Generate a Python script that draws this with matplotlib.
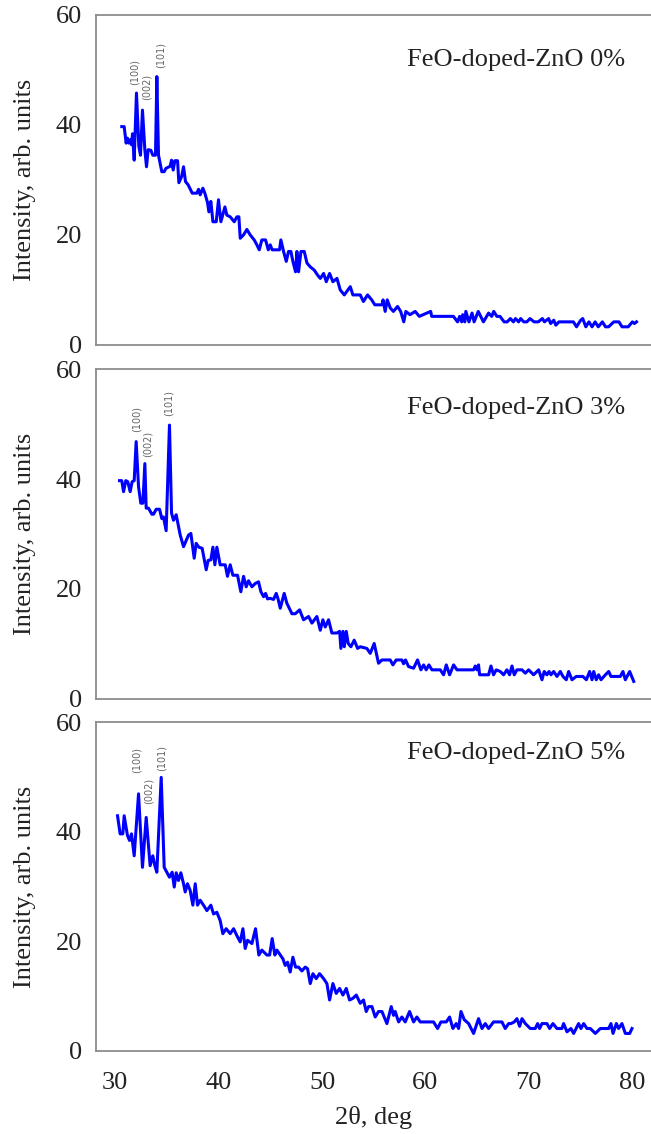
import matplotlib
matplotlib.use("Agg")
import matplotlib.pyplot as plt

plt.rcParams['font.family'] = ['Liberation Serif', 'DejaVu Serif']

# --- FeO-doped-ZnO 0% ---
x0 = [30.64, 30.87, 31.06, 31.19, 31.32, 31.45, 31.58, 31.68, 31.84, 32.06, 32.29, 32.45,
      32.64, 32.87, 33.03, 33.19, 33.45, 33.64, 33.90, 34.03, 34.19, 34.51, 34.74, 34.90,
      35.32, 35.45, 35.61, 35.77, 36.03, 36.16, 36.42, 36.61, 36.80, 37.06, 37.45, 37.90,
      38.06, 38.22, 38.48, 38.67, 38.93, 39.06, 39.25, 39.45, 39.77, 39.99, 40.22, 40.61,
      40.80, 41.12, 41.51, 41.77, 41.96, 42.09, 42.41, 42.73, 43.06, 43.44, 43.70, 43.93,
      44.18, 44.54, 44.80, 44.99, 45.18, 45.89, 46.02, 46.28, 46.54, 46.76, 46.99, 47.18,
      47.44, 47.57, 47.73, 47.96, 48.28, 48.54, 48.86, 49.25, 49.57, 49.83, 50.15, 50.41,
      50.73, 51.05, 51.44, 51.76, 52.15, 52.73, 52.98, 53.53,
      53.69, 54.0, 54.4, 54.8, 55.1, 55.8, 55.9, 56.1, 56.3, 56.6, 56.9, 57.3, 57.6, 57.9,
      58.1, 58.5, 59.0, 59.4, 60.5, 60.6, 62.7, 63.1, 63.3, 63.5, 63.6, 63.8, 63.9, 64.2,
      64.5, 64.7, 65.1, 65.6, 66.1, 66.4, 66.6, 66.9, 67.2, 67.6, 67.9, 68.2, 68.5, 68.7,
      69.0, 69.2, 69.5, 69.8, 70.1, 70.5, 70.9, 71.3, 71.5, 71.9, 72.1, 72.4, 72.6, 72.9,
      74.3, 74.6, 75.0, 75.2, 75.5, 75.8, 76.1, 76.4, 76.7, 77.1, 77.4, 77.7, 78.2, 78.7,
      79.0, 79.6, 80.0, 80.2, 80.4]
y0 = [39.7, 39.7, 36.7, 37.6, 36.7, 37.3, 36.4, 38.4, 33.6, 45.8, 36.1, 34.5,
      42.7, 35.5, 32.4, 35.5, 35.4, 34.5, 34.5, 48.8, 34.5, 31.5, 31.5, 32.1,
      32.5, 33.6, 31.8, 33.5, 33.5, 29.5, 30.6, 32.4, 29.7, 29.1, 27.6, 27.6,
      28.3, 27.3, 28.5, 27.6, 25.9, 24.2, 26.1, 22.4, 22.4, 26.4, 22.4, 25.1,
      23.6, 23.3, 22.4, 23.3, 23.3, 19.4, 20.0, 21.0, 20.0, 19.1, 18.2, 17.3,
      19.1, 19.1, 17.3, 18.2, 17.3, 17.3, 19.1, 17.0, 15.2, 17.0, 17.0, 15.2,
      13.3, 17.0, 13.3, 17.0, 17.0, 14.9, 14.2, 13.6, 12.7, 12.1, 13.0, 11.5,
      13.0, 11.5, 12.1, 10.0, 9.1, 10.6, 9.1, 9.1,
      9.1, 7.9, 9.1, 8.2, 7.3, 7.3, 8.2, 6.1, 8.2, 6.7, 6.1, 7.0, 6.1, 4.2,
      6.1, 5.5, 6.1, 5.2, 6.1, 5.2, 5.2, 4.2, 5.2, 4.2, 5.5, 4.2, 6.1, 4.2,
      5.8, 4.2, 6.1, 4.2, 5.8, 5.2, 6.1, 5.2, 5.2, 4.2, 4.2, 4.8, 4.2, 4.8,
      4.2, 4.8, 4.2, 4.2, 4.8, 4.2, 4.2, 4.8, 4.2, 4.8, 3.9, 4.5, 3.6, 4.2,
      4.2, 3.3, 4.5, 4.8, 3.3, 4.2, 3.3, 4.2, 3.3, 4.2, 3.3, 3.3, 4.2, 4.2,
      3.3, 3.3, 4.2, 3.9, 4.2]

# --- FeO-doped-ZnO 3% ---
x3 = [30.42, 30.64, 30.81, 31.03, 31.22, 31.45, 31.64, 31.84, 32.03, 32.26, 32.48, 32.68,
      32.87, 33.00, 33.22, 33.55, 33.71, 33.97, 34.29, 34.51, 34.67, 34.93, 35.25, 35.45,
      35.64, 35.90, 36.29, 36.61, 37.09, 37.32, 37.64, 37.83, 38.09, 38.41, 38.80, 38.99,
      39.25, 39.45, 39.64, 39.83, 40.15, 40.64, 40.86, 41.12, 41.38, 41.83, 42.15, 42.41,
      42.67, 42.89, 43.22, 43.54, 43.86, 44.09, 44.35, 44.54, 44.73, 44.99, 45.31, 45.57,
      45.76, 45.96, 46.34, 46.60, 47.09, 47.41, 47.83, 48.21, 48.70, 49.02, 49.50, 49.83,
      50.08, 50.31, 50.63, 50.95, 51.44, 51.70, 51.82, 52.02, 52.15, 52.34, 52.53, 52.79,
      53.11, 53.44,
      53.69, 54.33, 54.66, 55.04, 55.46, 55.79, 56.59, 56.85, 57.17, 57.72, 57.88, 58.07,
      58.36, 58.85, 59.23, 59.56, 59.82, 60.07, 60.33, 60.62, 61.43, 61.75, 62.01, 62.33,
      62.72, 63.04, 64.65, 64.81, 64.97, 65.13, 65.23, 66.10, 66.33, 66.58, 66.84, 67.23,
      67.55, 67.87, 68.13, 68.36, 68.58, 68.84, 69.33, 69.65, 69.97, 70.45, 70.94, 71.26,
      71.48, 71.74, 71.94, 72.13, 72.39, 72.71, 73.03, 73.29, 73.61, 73.84, 74.16, 74.58,
      75.22, 75.55, 75.87, 76.10, 76.26, 76.51, 76.74, 76.97, 77.39, 77.71, 77.93, 78.83,
      79.09, 79.32, 79.74, 80.13]
y3 = [39.7, 39.7, 37.7, 39.7, 39.5, 37.7, 39.5, 39.7, 46.8, 38.6, 35.6, 35.6,
      42.8, 34.7, 34.7, 33.6, 33.6, 34.5, 34.5, 32.8, 33.1, 30.6, 49.8, 33.8,
      32.5, 33.5, 29.8, 27.7, 29.8, 30.1, 25.6, 28.3, 27.6, 27.4, 23.5, 25.2,
      25.3, 27.6, 24.4, 27.6, 24.4, 24.4, 22.3, 24.4, 22.5, 22.5, 19.5, 22.3,
      20.4, 21.5, 20.4, 21.0, 21.3, 19.5, 18.6, 19.2, 18.2, 18.3, 18.1, 19.2,
      18.1, 16.5, 19.2, 17.4, 15.5, 15.5, 16.2, 14.4, 15.0, 13.8, 15.0, 12.5,
      14.4, 13.1, 14.4, 12.0, 12.0, 12.3, 9.2, 12.3, 9.5, 12.3, 10.1, 9.5,
      10.7, 9.2,
      9.5, 9.2, 8.3, 10.1, 6.5, 7.1, 7.1, 6.2, 7.1, 7.1, 6.4, 7.1,
      5.9, 5.6, 7.1, 5.3, 6.2, 5.3, 6.2, 5.3, 5.3, 4.4, 6.2, 4.4,
      6.2, 5.3, 5.3, 6.0, 5.3, 6.2, 4.4, 4.4, 6.0, 4.4, 5.3, 5.0,
      4.4, 5.3, 4.4, 6.0, 4.4, 5.3, 5.3, 4.7, 5.3, 4.4, 5.3, 3.5,
      5.0, 4.4, 5.0, 4.4, 5.0, 4.1, 5.0, 4.1, 3.5, 5.0, 3.5, 4.1,
      4.1, 3.5, 5.0, 3.5, 5.0, 3.5, 4.4, 3.5, 4.4, 5.0, 4.1, 4.1,
      5.0, 3.5, 5.0, 3.2]

# --- FeO-doped-ZnO 5% ---
x5 = [30.23, 30.48, 30.74, 30.87, 31.19, 31.39, 31.58, 31.84, 32.26, 32.64, 33.00, 33.38,
      33.64, 33.84, 34.03, 34.45, 34.74, 35.00, 35.25, 35.51, 35.71, 35.90, 36.12, 36.35,
      36.61, 36.77, 36.99, 37.25, 37.51, 37.74, 37.96, 38.22, 38.54, 38.87, 39.25, 39.51,
      39.83, 40.15, 40.41, 40.73, 41.12, 41.45, 41.83, 42.09, 42.35, 42.57, 42.80, 43.22,
      43.57, 43.89, 44.18, 44.67, 44.93, 45.18, 45.44, 45.64, 45.96, 46.22, 46.44, 46.67,
      46.92, 47.18, 47.44, 47.73, 48.05, 48.38, 48.60, 48.86, 49.12, 49.44, 49.76, 50.15,
      50.47, 50.73, 51.05, 51.37, 51.70, 52.02, 52.34, 52.66, 52.98, 53.31,
      53.69, 54.01, 54.27, 54.50, 54.82, 55.14, 55.46, 55.79, 56.27, 56.69, 56.91, 57.07,
      57.40, 57.72, 58.04, 58.46, 58.85, 59.17, 59.49, 60.78, 61.17, 61.49, 62.01, 62.33,
      62.65, 62.97, 63.20, 63.43, 63.75, 64.17, 64.65, 65.13, 65.46, 65.78, 66.10, 66.58,
      67.39, 67.71, 68.04, 68.26, 68.58, 68.84, 69.10, 69.33, 69.65, 70.13, 70.61, 70.84,
      71.03, 71.26, 71.74, 72.00, 72.32, 72.71, 73.19, 73.35, 73.68, 74.06, 74.32, 74.80,
      75.03, 75.29, 75.61, 75.93, 76.42, 76.90, 77.71, 77.93, 78.13, 78.45, 78.67, 78.99,
      79.32, 79.74, 79.96]
y5 = [42.9, 39.6, 39.6, 42.9, 39.3, 38.4, 39.6, 35.6, 46.9, 33.5, 42.6, 33.8,
      35.6, 33.8, 32.6, 49.9, 33.5, 32.6, 31.7, 32.6, 29.9, 32.5, 31.1, 32.5,
      30.5, 29.0, 30.5, 29.3, 26.6, 30.5, 26.6, 27.5, 26.6, 25.6, 26.6, 25.0,
      25.3, 23.8, 21.4, 22.3, 21.4, 22.3, 20.8, 19.9, 22.3, 18.7, 20.2, 19.6,
      22.3, 17.5, 18.4, 17.5, 17.5, 20.5, 17.5, 18.4, 17.5, 16.8, 15.6, 16.2,
      14.4, 17.1, 15.3, 15.3, 14.6, 15.3, 15.0, 12.3, 14.1, 13.2, 14.1, 13.2,
      12.3, 9.3, 12.3, 10.5, 11.4, 10.2, 11.4, 9.3, 9.6, 10.2,
      8.7, 9.3, 7.2, 8.1, 8.1, 6.2, 7.2, 7.2, 5.0, 8.1, 6.5, 7.2,
      5.3, 6.2, 5.3, 7.2, 5.3, 6.2, 5.3, 5.3, 4.1, 5.3, 5.3, 6.2,
      4.1, 5.0, 4.1, 7.2, 5.7, 5.0, 3.2, 5.9, 4.1, 5.0, 4.1, 5.3,
      5.3, 4.1, 5.0, 5.0, 5.3, 5.9, 4.5, 5.9, 5.0, 4.1, 4.1, 5.0,
      4.1, 5.0, 5.0, 4.1, 5.0, 4.1, 4.1, 5.0, 3.5, 4.1, 3.2, 5.0,
      4.1, 5.0, 4.1, 4.1, 3.2, 4.1, 4.1, 5.0, 3.2, 5.0, 4.1, 5.0,
      3.2, 3.2, 4.1]

labels = ["FeO-doped-ZnO 0%", "FeO-doped-ZnO 3%", "FeO-doped-ZnO 5%"]
peak_names = ["(100)", "(002)", "(101)"]
peak_x = [[31.93, 33.0, 34.35], [32.1, 33.1, 35.2], [32.1, 33.2, 34.5]]
peak_y = [[47.3, 44.5, 50.4], [48.5, 44.0, 51.5], [50.7, 45.1, 51.1]]
label_y = [0.864, 0.882, 0.906]

series = [(x0, y0), (x3, y3), (x5, y5)]
# axes boxes in figure fraction: [left, bottom, width, height]
boxes = [[0.1475, 0.6958, 0.8525, 0.2910],
         [0.1475, 0.3836, 0.8525, 0.2910],
         [0.1475, 0.0732, 0.8525, 0.2901]]

fig = plt.figure(figsize=(6.51, 11.34), dpi=100)

for i, (xs, ys) in enumerate(series):
    ax = fig.add_axes(boxes[i])
    ax.plot(xs, ys, color='#0000ff', lw=2.2)
    ax.set_xlim(28.15, 81.8)
    ax.set_ylim(0, 60)
    ax.set_yticks([0, 20, 40, 60])
    ax.set_xticks([30, 40, 50, 60, 70, 80])
    ax.tick_params(length=0, labelsize=19, colors='#222222', pad=10)
    ax.tick_params(axis='x', pad=15)
    if i < 2:
        ax.set_xticklabels([])
    else:
        ax.set_xlabel("2θ, deg", fontsize=19, color='#222222', labelpad=9)
    ax.set_ylabel("Intensity, arb. units", fontsize=19, color='#222222', labelpad=14)
    for s in ['left', 'top', 'bottom']:
        ax.spines[s].set_color('#8c8c8c')
        ax.spines[s].set_linewidth(1.3)
    ax.spines['right'].set_visible(False)
    ax.text(0.953, label_y[i], labels[i], transform=ax.transAxes, ha='right', va='center',
            fontsize=19, color='#222222')
    for name, px, py in zip(peak_names, peak_x[i], peak_y[i]):
        ax.text(px, py, name, rotation=90, ha='center', va='bottom', fontsize=7,
                color='#666666', family=['DejaVu Sans'])

fig.savefig("out.png", dpi=100)
